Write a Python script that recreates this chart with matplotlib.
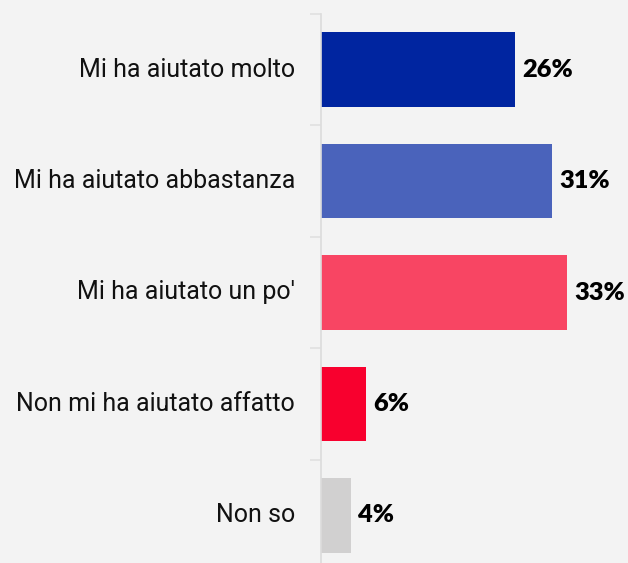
import matplotlib.pyplot as plt

categories = ["Mi ha aiutato molto", "Mi ha aiutato abbastanza", "Mi ha aiutato un po'",
              "Non mi ha aiutato affatto", "Non so"]
values = [26, 31, 33, 6, 4]
colors = ["#0025a0", "#4a63bb", "#f84563", "#f8002e", "#d1d0d0"]

bg = "#f3f3f3"
fig = plt.figure(figsize=(6.28, 5.63), dpi=100, facecolor=bg)
# axes top at y=14px, bottom runs off the image
ax = fig.add_axes([321 / 628, -8 / 563, 307 / 628, 557 / 563], facecolor=bg)

y = list(range(len(categories)))
ax.barh(y, values, height=0.67, color=colors)
ax.set_ylim(len(categories) - 0.5, -0.5)
ax.set_xlim(0, 307 / 7.455)

for yi, v in zip(y, values):
    ax.text(v + 1.0, yi, f"{v}%", va="center", ha="left", fontsize=18.3,
            fontfamily="Lato", fontweight="heavy", color="#000000")

for yi, c in zip(y, categories):
    ax.text(-26 / 7.455, yi, c, va="center", ha="right", fontsize=18,
            fontfamily="Roboto", fontweight="normal", color="#111111")

ax.set_yticks([i - 0.5 for i in range(len(categories) + 1)])
ax.set_yticklabels([])
ax.tick_params(axis="y", length=8, width=1.2, color="#e0e0e0")
ax.set_xticks([])
for s in ["top", "right", "bottom"]:
    ax.spines[s].set_visible(False)
ax.spines["left"].set_color("#dcdcdc")
ax.spines["left"].set_linewidth(1.2)

fig.savefig("out.png", dpi=100, facecolor=bg)
